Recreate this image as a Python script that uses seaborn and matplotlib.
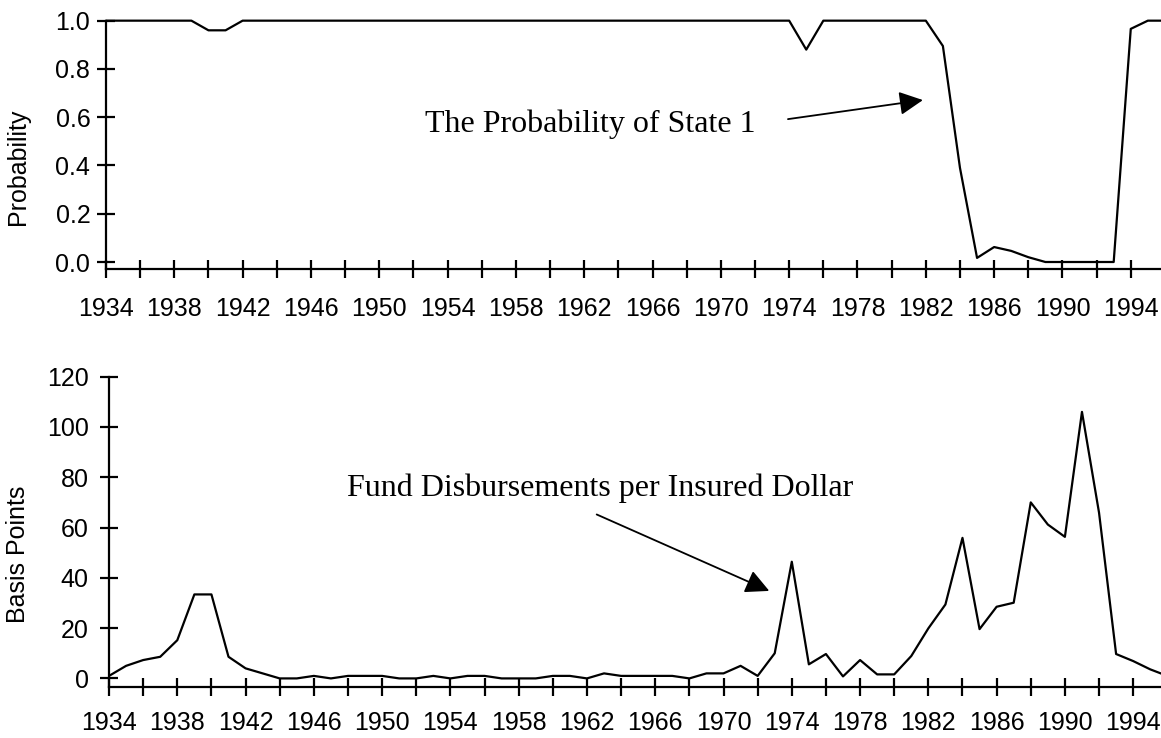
import numpy as np
import pandas as pd
import matplotlib
matplotlib.use("Agg")
import matplotlib.pyplot as plt
import seaborn as sns

# years 1934..1996
years = list(range(1934, 1997))

prob_state1 = [
    1.0, 1.0, 1.0, 1.0, 1.0, 1.0, 0.96, 0.96,          # 1934-1941
    1.0, 1.0, 1.0, 1.0, 1.0, 1.0, 1.0, 1.0, 1.0, 1.0,  # 1942-1951
    1.0, 1.0, 1.0, 1.0, 1.0, 1.0, 1.0, 1.0, 1.0, 1.0,  # 1952-1961
    1.0, 1.0, 1.0, 1.0, 1.0, 1.0, 1.0, 1.0, 1.0, 1.0,  # 1962-1971
    1.0, 1.0, 1.0, 0.88, 1.0, 1.0, 1.0, 1.0, 1.0, 1.0,  # 1972-1981
    1.0, 0.895, 0.39, 0.017, 0.062, 0.046, 0.02, 0.0,  # 1982-1989
    0.0, 0.0, 0.0, 0.0, 0.966, 1.0, 1.0,                # 1990-1996
]

disbursements = [
    1, 5, 7.3, 8.6, 15.2, 33.4, 33.4, 8.6, 4.0, 2.0,    # 1934-1943
    0, 0, 1, 0, 1, 1, 1, 0, 0, 1,                       # 1944-1953
    0, 1, 1, 0, 0, 0, 1, 1, 0, 2,                       # 1954-1963
    1, 1, 1, 1, 0, 2, 2, 5, 1, 10,                      # 1964-1973
    46.4, 5.6, 9.7, 0.8, 7.3, 1.6, 1.6, 8.9, 19.9, 29.4,  # 1974-1983
    55.9, 19.6, 28.5, 30.1, 70, 61.2, 56.3, 106, 65.9, 9.7,  # 1984-1993
    6.9, 3.6, 1.0,                                      # 1994-1996
]

top_df = pd.DataFrame({"Year": years, "Prob": prob_state1})
bot_df = pd.DataFrame({"Year": years, "BP": disbursements})

sns.set_style("ticks")
plt.rcParams["font.family"] = ["Liberation Sans", "DejaVu Sans"]
plt.rcParams["text.color"] = "black"
plt.rcParams["axes.labelcolor"] = "black"

fig = plt.figure(figsize=(11.61, 7.38), dpi=100)
ax1 = fig.add_axes([0.0913, 0.6355, 0.9087, 0.3365])
ax2 = fig.add_axes([0.0939, 0.0695, 0.9061, 0.4201])

sns.lineplot(data=top_df, x="Year", y="Prob", ax=ax1, color="black", lw=1.6, clip_on=False)
sns.lineplot(data=bot_df, x="Year", y="BP", ax=ax2, color="black", lw=1.6)

xticks = list(range(1934, 1996, 2))
xlabels = [str(y) if (y - 1934) % 4 == 0 else "" for y in xticks]

for ax in (ax1, ax2):
    for s in ("top", "right"):
        ax.spines[s].set_visible(False)
    for s in ("left", "bottom"):
        ax.spines[s].set_linewidth(1.6)
        ax.spines[s].set_color("black")
    ax.set_xticks(xticks)
    ax.set_xticklabels(xlabels)
    ax.set_xlabel("")
    ax.tick_params(direction="inout", length=12.5, width=1.6, colors="black",
                   labelsize=18)

ax1.set_xlim(1934, 1995.77)
ax1.set_ylim(-0.029, 1.0)
ax1.set_yticks([0.0, 0.2, 0.4, 0.6, 0.8, 1.0])
ax1.set_yticklabels(["0.0", "0.2", "0.4", "0.6", "0.8", "1.0"])
ax1.tick_params(axis="x", pad=14)
ax1.tick_params(axis="y", pad=5)
ax1.set_ylabel("Probability", fontsize=18, va="center")
ax1.yaxis.set_label_coords(-0.083, 0.41)

ax2.set_xlim(1934, 1995.63)
ax2.set_ylim(-3.3, 120)
ax2.set_yticks([0, 20, 40, 60, 80, 100, 120])
ax2.tick_params(axis="x", pad=11.5)
ax2.tick_params(axis="y", pad=8.5)
ax2.set_ylabel("Basis Points", fontsize=18, va="center")
ax2.yaxis.set_label_coords(-0.0865, 0.428)

arrow = dict(arrowstyle="-|>", mutation_scale=36, lw=1.3, color="black",
             shrinkA=0, shrinkB=0)

ax1.text(1952.68, 0.539, "The Probability of State 1", family="Liberation Serif",
         fontsize=23, ha="left", va="baseline", color="black")
ax1.annotate("", xy=(1981.83, 0.671), xytext=(1973.93, 0.592), arrowprops=arrow)

ax2.text(1947.94, 72.6, "Fund Disbursements per Insured Dollar", family="Liberation Serif",
         fontsize=23, ha="left", va="baseline", color="black")
ax2.annotate("", xy=(1972.68, 34.8), xytext=(1962.57, 65.2), arrowprops=arrow)

fig.savefig("out.png", dpi=100)
